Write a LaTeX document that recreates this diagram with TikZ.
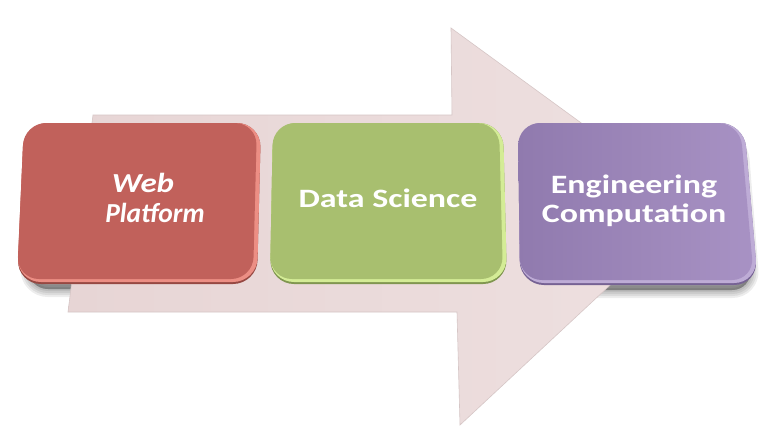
\documentclass[tikz,border=0pt]{standalone}
\usepackage{fontspec}
\setmainfont{Carlito}

\definecolor{arrowfill}{RGB}{231,213,213}
\definecolor{arrowfillB}{RGB}{238,224,224}
\definecolor{arrowline}{RGB}{214,198,198}
\definecolor{redface}{RGB}{193,97,91}
\definecolor{redrim}{RGB}{236,142,132}
\definecolor{reddark}{RGB}{150,72,66}
\definecolor{greenface}{RGB}{168,191,111}
\definecolor{greenrim}{RGB}{212,236,150}
\definecolor{greendark}{RGB}{128,150,80}
\definecolor{purpleL}{RGB}{144,122,174}
\definecolor{purpleR}{RGB}{168,146,196}
\definecolor{purplerim}{RGB}{190,172,214}
\definecolor{purpledark}{RGB}{118,98,148}

\tikzset{
  tilerim/.style={rounded corners=24pt},
  tileface/.style={rounded corners=22pt},
  softshadow/.style={black, draw opacity=0.07, fill opacity=0.07,
      line width=#1, rounded corners=20pt},
  label/.style={text=white, inner sep=0pt,
      font=\fontsize{26.5}{29}\selectfont\bfseries},
}

% outlines of the three tiles (slightly trapezoidal)
\newcommand\redshape{(24,123) -- (261,123) -- (257,284) -- (17,284) -- cycle}
\newcommand\greenshape{(273,123) -- (503,123) -- (507,284) -- (270,284) -- cycle}
\newcommand\purpleshape{(518,123) -- (744,123) -- (758,285) -- (520,285) -- cycle}

% footprints of the cast shadows, a little inset and lower
\newcommand\redshadow{(32,140) -- (252,140) -- (250,289) -- (28,289) -- cycle}
\newcommand\greenshadow{(280,140) -- (497,140) -- (500,289) -- (278,289) -- cycle}
\newcommand\purpleshadow{(528,140) -- (740,140) -- (752,290) -- (530,290) -- cycle}

\newcommand\stretchtext[1]{\scalebox{1.28}[1]{\begin{tabular}[t]{@{}c@{}}#1\end{tabular}}}

\begin{document}
\begin{tikzpicture}[x=1pt, y=-1pt]
  \useasboundingbox (0,0) rectangle (770,436);
  \fill[white] (0,0) rectangle (770,436);

  % soft cast shadows of the tiles (behind the arrow)
  \foreach \w in {16pt,12pt,8pt,4pt,0.1pt} {
    \filldraw[softshadow=\w] \redshadow;
    \filldraw[softshadow=\w] \greenshadow;
    \filldraw[softshadow=\w] \purpleshadow;
  }

  % large background arrow
  \path[left color=arrowfill, right color=arrowfillB, draw=arrowline, line width=0.6pt]
    (93,115) -- (452,115) -- (451,28) -- (695,206) -- (460,425)
    -- (457,312) -- (68,312) -- cycle;

  % red tile
  \fill[reddark, tilerim] \redshape;
  \fill[redrim, tilerim]
    (24,123) -- (261,123) -- (257,282) -- (17,282) -- cycle;
  \fill[redface, tileface]
    (24,123) -- (257,123) -- (253,279) -- (17,279) -- cycle;

  % green tile
  \fill[greendark, tilerim] \greenshape;
  \fill[greenrim, tilerim]
    (273,123) -- (503,123) -- (507,282) -- (270,282) -- cycle;
  \fill[greenface, tileface]
    (273,123) -- (499,123) -- (503,279) -- (270,279) -- cycle;

  % purple tile
  \fill[purpledark, tilerim] \purpleshape;
  \fill[purplerim, tilerim]
    (518,123) -- (744,123) -- (758,283) -- (520,283) -- cycle;
  \shade[left color=purpleL, right color=purpleR, tileface]
    (518,123) -- (740,123) -- (754,280) -- (520,280) -- cycle;

  % tile captions
  \node[label, anchor=base, font=\fontsize{27.5}{30}\selectfont\bfseries\itshape] (web) at (155,192)
    {\begin{tabular}[t]{@{}c@{}}\scalebox{1.2}[1]{Web}\hspace*{24pt}\\Platform\end{tabular}};
  \node[label, anchor=base] (data) at (388,207)
    {\stretchtext{Data Science}};
  \node[label, anchor=base] (eng) at (634,193)
    {\stretchtext{Engineering\\Computation}};
\end{tikzpicture}
\end{document}
